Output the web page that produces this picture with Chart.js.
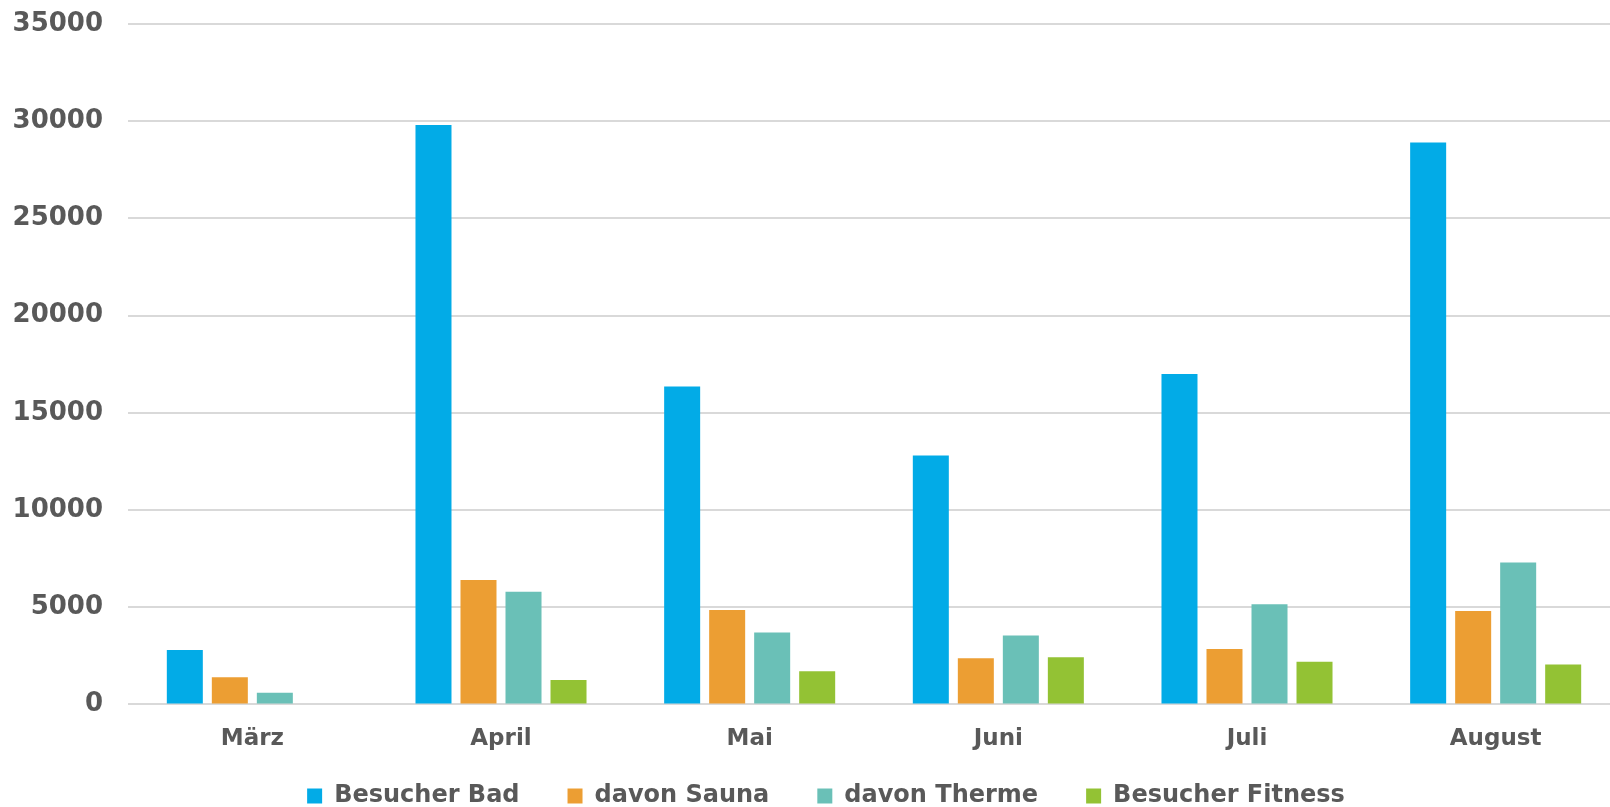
<!DOCTYPE html>
<html lang="de">
<head>
<meta charset="utf-8">
<title>Besucher</title>
<script src="https://cdn.jsdelivr.net/npm/chart.js@4.4.1/dist/chart.umd.min.js"></script>
<style>
    html, body { margin: 0; padding: 0; background: #ffffff; overflow: hidden; }
    #wrap { position: relative; width: 1652px; height: 848px; }
</style>
</head>
<body>
<div id="wrap"><canvas id="besucherChart"></canvas></div>
<script>
const monate = ['März', 'April', 'Mai', 'Juni', 'Juli', 'August'];

const besucherBad = [2800, 29800, 16350, 12800, 17000, 28900];
const davonSauna = [1400, 6400, 4850, 2370, 2850, 4800];
const davonTherme = [600, 5800, 3700, 3550, 5150, 7300];
const besucherFitness = [0, 1250, 1700, 2420, 2200, 2050];

const yMax = 35000;
const yStep = 5000;

const textColor = '#595959';
const fontFamily = '"DejaVu Sans", sans-serif';

// Legende etwas verschieben (wie im Original: mittig unter dem Ganzen, näher an der Achse)
const legendShift = {
    id: 'legendShift',
    afterLayout(chart) {
        const lg = chart.legend;
        if (!lg) return;
        lg.left += 10;
        lg.right += 10;
        lg.top -= 30;
        lg.bottom -= 30;
    }
};

function initChart() {
    const ctx = document.getElementById('besucherChart').getContext('2d');

    // Balken: gleiche Breite, kleine Lücke innerhalb der Gruppe
    const barStyle = { categoryPercentage: 0.724, barPercentage: 0.8, borderWidth: 0 };

    window.myBarChart = new Chart(ctx, {
        type: 'bar',
        data: {
            labels: monate,
            datasets: [
                { label: 'Besucher Bad', data: besucherBad, backgroundColor: '#02abe7', ...barStyle },
                { label: 'davon Sauna', data: davonSauna, backgroundColor: '#ec9e33', ...barStyle },
                { label: 'davon Therme', data: davonTherme, backgroundColor: '#6ac0b7', ...barStyle },
                { label: 'Besucher Fitness', data: besucherFitness, backgroundColor: '#93c234', ...barStyle }
            ]
        },
        plugins: [legendShift],
        options: {
            responsive: true,
            maintainAspectRatio: false,
            animation: false,
            layout: { padding: { left: 12, right: 32, top: 24, bottom: 0 } },
            plugins: {
                legend: {
                    position: 'bottom',
                    labels: {
                        boxWidth: 15,
                        boxHeight: 15,
                        padding: 48,
                        color: textColor,
                        font: { family: fontFamily, size: 24, weight: 'bold' }
                    }
                },
                tooltip: { enabled: false }
            },
            scales: {
                x: {
                    grid: { display: false },
                    border: { display: false },
                    ticks: {
                        color: textColor,
                        padding: 13,
                        font: { family: fontFamily, size: 23, weight: 'bold' }
                    }
                },
                y: {
                    min: 0,
                    max: yMax,
                    grid: { color: '#d9d9d9', lineWidth: 2, drawTicks: false },
                    border: { display: false },
                    afterFit: scale => {
                        scale.width = 116;
                        scale.paddingTop = 0;
                    },
                    ticks: {
                        stepSize: yStep,
                        padding: 25,
                        color: textColor,
                        font: { family: fontFamily, size: 26, weight: 'bold' },
                        callback: value => String(value)
                    }
                }
            }
        }
    });
}

window.onload = initChart;
</script>
</body>
</html>
